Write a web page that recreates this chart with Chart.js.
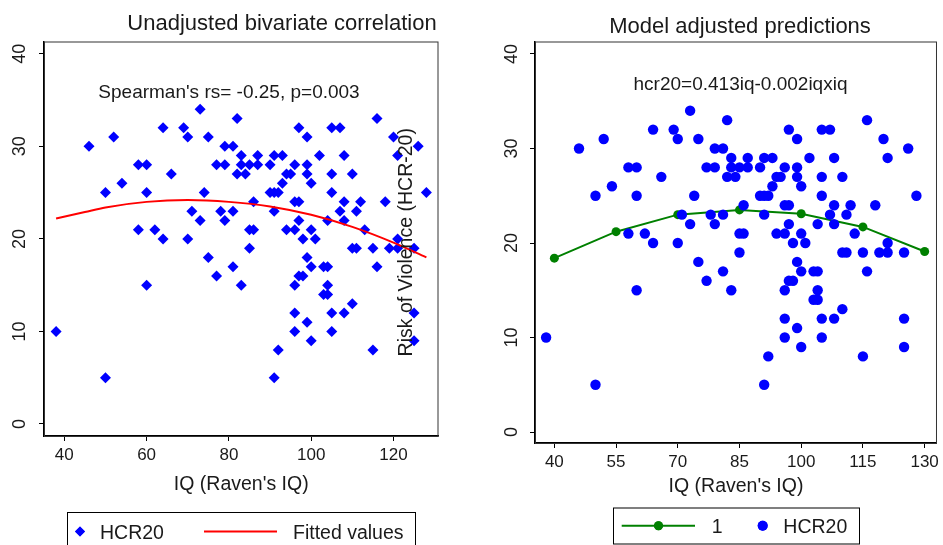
<!DOCTYPE html>
<html>
<head>
<meta charset="utf-8">
<script src="https://cdn.jsdelivr.net/npm/chart.js@4.4.0/dist/chart.umd.min.js"></script>
<style>
  html, body { margin: 0; padding: 0; background: #fff; }
  body { width: 943px; height: 545px; position: relative; overflow: hidden; }
  canvas { position: absolute; top: 0; }
</style>
</head>
<body>
<canvas id="left" width="470" height="545" style="left:0"></canvas>
<canvas id="right" width="553" height="545" style="left:390px"></canvas>
<script>
// IQ (Raven's IQ) and HCR-20 score per subject
const iq = [
  38, 46, 50, 50, 52, 54, 58, 58, 60, 60,
  60, 62, 64, 64, 66, 69, 70, 70, 71, 73,
  73, 74, 75, 75, 77, 77, 78, 79, 79, 79,
  81, 81, 81, 82, 82, 83, 83, 83, 84, 85,
  85, 85, 86, 86, 87, 87, 90, 90, 91, 91,
  91, 91, 92, 92, 93, 93, 94, 94, 95, 96,
  96, 96, 96, 96, 96, 97, 97, 97, 97, 98,
  98, 99, 99, 99, 99, 99, 100, 100, 100, 100,
  101, 102, 103, 103, 104, 104, 104, 104, 105, 105,
  105, 105, 105, 107, 107, 108, 108, 108, 108, 110,
  110, 110, 111, 111, 112, 113, 115, 115, 116, 116,
  118, 119, 120, 121, 121, 121, 125, 125, 125, 126,
  128,
]
const hcr20 = [
  10, 30, 25, 5, 31, 26, 28, 21, 28, 25,
  15, 21, 32, 20, 27, 32, 31, 20, 23, 34,
  22, 25, 31, 18, 28, 16, 23, 30, 28, 22,
  30, 23, 17, 33, 27, 29, 28, 15, 27, 28,
  21, 19, 24, 21, 29, 28, 28, 25, 29, 25,
  23, 5, 25, 8, 29, 26, 27, 21, 27, 28,
  24, 21, 15, 12, 10, 32, 24, 22, 16, 20,
  16, 31, 28, 27, 18, 11, 26, 21, 17, 9,
  20, 29, 17, 14, 22, 17, 15, 14, 32, 27,
  25, 12, 10, 32, 23, 29, 24, 22, 12, 27,
  19, 13, 23, 19, 24, 21, 19, 8, 33, 17,
  24, 19, 31, 29, 20, 19, 19, 12, 9, 30,
  25,
]

// quadratic fitted values (left panel)
const fitIq = [38, 45, 50, 60, 70, 80, 90, 100, 110, 120, 128]
const fitValues = [22.2, 22.9, 23.4, 24.0, 24.2, 24.0, 23.5, 22.6, 21.3, 19.6, 18.0]

// model adjusted predictions (right panel)
const predIq = [40, 55, 70, 85, 100, 115, 130]
const predValues = [18.4, 21.2, 23.0, 23.5, 23.1, 21.7, 19.1]

const leftXTicks = [40, 60, 80, 100, 120]
const rightXTicks = [40, 55, 70, 85, 100, 115, 130]
const yTicks = [0, 10, 20, 30, 40]

const FONT = '"Liberation Sans", Arial, Helvetica, sans-serif'
const BLUE = '#0000ff'
const RED = '#ff0000'
const GREEN = '#008000'
const INK = '#1a1a1a'

function tickSetter(values) {
  return scale => { scale.ticks = values.map(v => ({ value: v })) }
}

// frame, rotated y labels, title, note and legend box, Stata style
const decor = {
  id: 'decor',
  afterDraw(chart, args, o) {
    const ctx = chart.ctx
    const a = chart.chartArea
    ctx.save()
    ctx.strokeStyle = '#333'
    ctx.lineWidth = 1
    ctx.strokeRect(a.left + 0.5, a.top + 0.5, a.right - a.left - 1, a.bottom - a.top)

    const y = chart.scales.y
    ctx.fillStyle = INK
    ctx.font = o.tickSize + 'px ' + FONT
    ctx.textAlign = 'center'
    ctx.textBaseline = 'alphabetic'
    y.ticks.forEach(t => {
      ctx.save()
      ctx.translate(a.left - o.yLabelGap, y.getPixelForValue(t.value))
      ctx.rotate(-Math.PI / 2)
      ctx.fillText(String(t.value), 0, 0)
      ctx.restore()
    })

    ctx.font = o.titleSize + 'px ' + FONT
    ctx.fillText(o.title, o.titleX, o.titleY)
    ctx.font = o.noteSize + 'px ' + FONT
    ctx.fillText(o.note, o.noteX, o.noteY)

    const L = o.legend
    ctx.strokeStyle = '#000'
    ctx.strokeRect(L.box[0] + 0.5, L.box[1] + 0.5, L.box[2], L.box[3])
    ctx.font = L.size + 'px ' + FONT
    ctx.textAlign = 'left'
    L.items.forEach(it => {
      if (it.line) {
        ctx.strokeStyle = it.line
        ctx.lineWidth = 2
        ctx.beginPath()
        ctx.moveTo(it.x1, L.y)
        ctx.lineTo(it.x2, L.y)
        ctx.stroke()
      }
      if (it.marker) {
        ctx.fillStyle = it.color
        ctx.strokeStyle = it.color
        Chart.helpers.drawPoint(ctx, { pointStyle: it.marker, radius: it.r, borderWidth: 0 }, it.mx, L.y)
        ctx.fill()
      }
      ctx.fillStyle = INK
      ctx.fillText(it.text, it.tx, L.base)
    })
    ctx.restore()
  },
}

function xScale(min, max, ticks, titlePad) {
  return {
    type: 'linear',
    min: min,
    max: max,
    afterBuildTicks: tickSetter(ticks),
    afterFit: s => { s.height = 62 },
    ticks: { font: { family: FONT, size: 17 }, color: INK, padding: 4, maxRotation: 0, autoSkip: false },
    grid: { drawOnChartArea: false, tickLength: 5, color: '#000' },
    border: { color: '#000', width: 1.5 },
    title: { display: true, text: "IQ (Raven's IQ)", font: { family: FONT, size: 19.5 }, color: INK, padding: { top: 0, bottom: titlePad } },
  }
}

function yScale(min, max, width, title) {
  return {
    type: 'linear',
    min: min,
    max: max,
    afterBuildTicks: tickSetter(yTicks),
    afterFit: s => { s.width = width },
    ticks: { display: false },
    grid: { drawOnChartArea: false, tickLength: 5, color: '#000' },
    border: { color: '#000', width: 1.5 },
    title: title,
  }
}

const points = iq.map((x, i) => ({ x: x, y: hcr20[i] }))

new Chart(document.getElementById('left'), {
  type: 'scatter',
  data: {
    datasets: [
      {
        label: 'HCR20',
        data: points,
        pointStyle: 'rectRot',
        pointRadius: 5.5,
        backgroundColor: BLUE,
        borderWidth: 0,
        order: 2,
      },
      {
        type: 'line',
        label: 'Fitted values',
        data: fitIq.map((x, i) => ({ x: x, y: fitValues[i] })),
        borderColor: RED,
        borderWidth: 2,
        pointRadius: 0,
        cubicInterpolationMode: 'monotone',
        fill: false,
        order: 1,
      },
    ],
  },
  options: {
    responsive: false,
    animation: false,
    devicePixelRatio: 1,
    layout: { padding: { top: 41.5, right: 31.5, bottom: 47, left: 0 } },
    scales: {
      x: xScale(35.06, 130.94, leftXTicks, 2),
      y: yScale(-1.3, 41.33, 44, { display: false }),
    },
    plugins: {
      legend: { display: false },
      tooltip: { enabled: false },
      decor: {
        tickSize: 18, yLabelGap: 19,
        title: 'Unadjusted bivariate correlation', titleSize: 22, titleX: 282, titleY: 30,
        note: "Spearman's rs= -0.25, p=0.003", noteSize: 19, noteX: 229, noteY: 98,
        legend: {
          box: [67, 512, 348, 50], y: 531.5, base: 539, size: 19.5,
          items: [
            { marker: 'rectRot', color: BLUE, r: 5, mx: 80, text: 'HCR20', tx: 100 },
            { line: RED, x1: 204, x2: 277, text: 'Fitted values', tx: 293 },
          ],
        },
      },
    },
  },
  plugins: [decor],
})

new Chart(document.getElementById('right'), {
  type: 'scatter',
  data: {
    datasets: [
      {
        type: 'line',
        label: '1',
        data: predIq.map((x, i) => ({ x: x, y: predValues[i] })),
        borderColor: GREEN,
        backgroundColor: GREEN,
        borderWidth: 2,
        pointRadius: 4.5,
        pointBorderWidth: 0,
        tension: 0,
        fill: false,
        order: 2,
      },
      {
        label: 'HCR20',
        data: points,
        pointStyle: 'circle',
        pointRadius: 5.2,
        backgroundColor: BLUE,
        borderWidth: 0,
        order: 1,
      },
    ],
  },
  options: {
    responsive: false,
    animation: false,
    devicePixelRatio: 1,
    layout: { padding: { top: 41.5, right: 5.7, bottom: 40, left: 0 } },
    scales: {
      x: xScale(35.3, 133, rightXTicks, 6.6),
      y: yScale(-1.16, 41.32, 145, {
        display: true, text: 'Risk of Violence (HCR-20)',
        font: { family: FONT, size: 19.5 }, color: INK, padding: { top: 5, bottom: 0 },
      }),
    },
    plugins: {
      legend: { display: false },
      tooltip: { enabled: false },
      decor: {
        tickSize: 18, yLabelGap: 18,
        title: 'Model adjusted predictions', titleSize: 22, titleX: 350, titleY: 33,
        note: 'hcr20=0.413iq-0.002iqxiq', noteSize: 19, noteX: 350.5, noteY: 90,
        legend: {
          box: [223, 507.5, 246, 36], y: 525.7, base: 533.3, size: 19.5,
          items: [
            { line: GREEN, x1: 231.7, x2: 305, marker: 'circle', color: GREEN, r: 4.5, mx: 268.5, text: '1', tx: 321.7 },
            { marker: 'circle', color: BLUE, r: 5, mx: 372.7, text: 'HCR20', tx: 393.3 },
          ],
        },
      },
    },
  },
  plugins: [decor],
})
</script>
</body>
</html>
